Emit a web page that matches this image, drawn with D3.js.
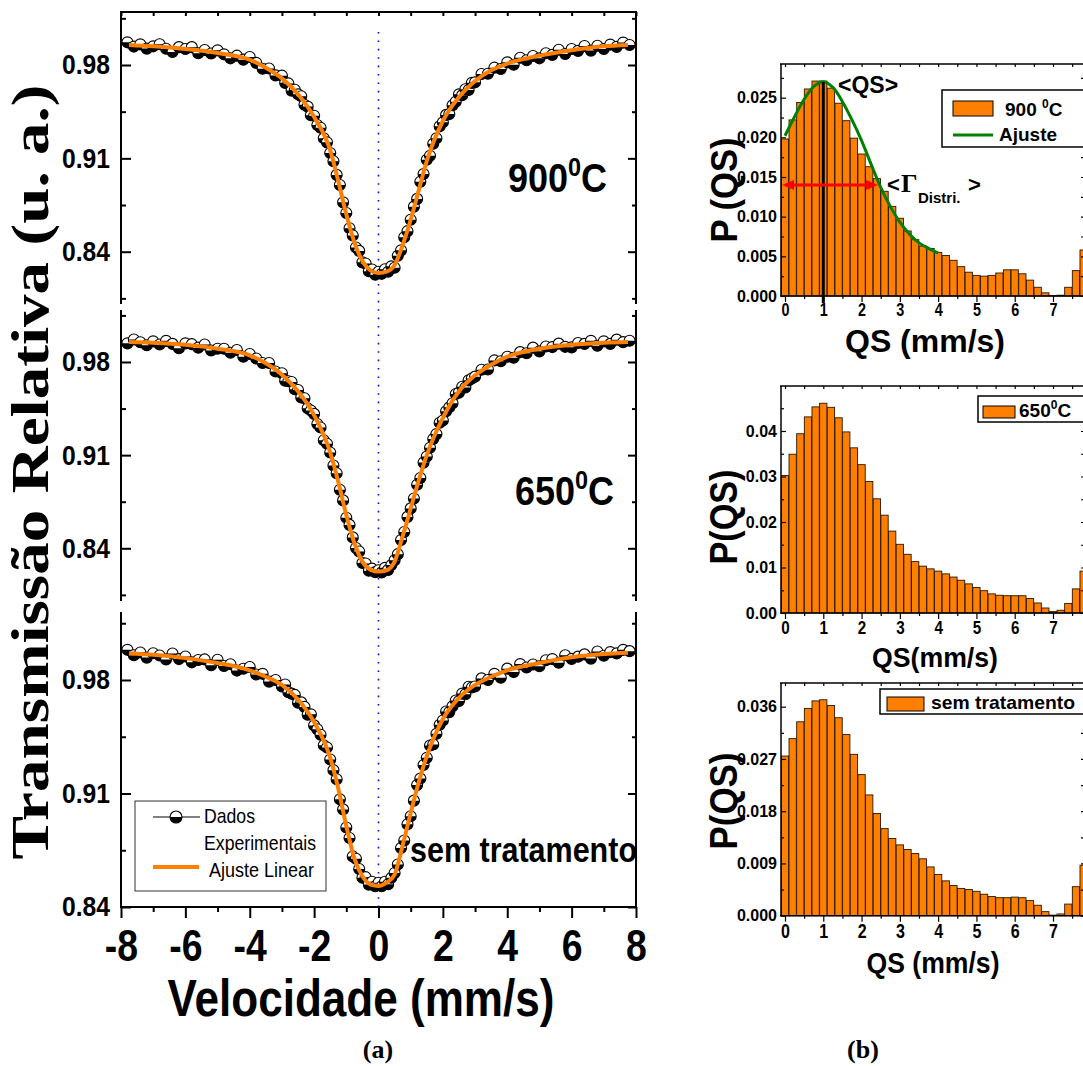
<!DOCTYPE html>
<html><head><meta charset="utf-8">
<script src="https://cdn.jsdelivr.net/npm/d3@7"></script>
<style>body{margin:0;background:#fff}svg{display:block}</style>
</head><body>
<svg id="c" width="1083" height="1066"></svg>
<script>
// ---------------- DATA ----------------
const velocity = [-7.8,-7.6,-7.4,-7.2,-7.0,-6.8,-6.6,-6.4,-6.2,-6.0,-5.8,-5.6,-5.4,-5.2,-5.0,-4.8,-4.6,-4.4,-4.2,-4.0,-3.8,-3.6,-3.4,-3.2,
 -3.0,-2.9,-2.8,-2.7,-2.6,-2.5,-2.4,-2.3,-2.2,-2.1,-2.0,-1.9,-1.8,-1.7,-1.6,-1.5,-1.4,-1.3,-1.2,-1.1,-1.0,-0.9,-0.8,-0.7,-0.6,-0.5,-0.4,-0.3,-0.2,-0.1,
 0.0,0.1,0.2,0.3,0.4,0.5,0.6,0.7,0.8,0.9,1.0,1.1,1.2,1.3,1.4,1.5,1.6,1.7,1.8,1.9,2.0,2.1,2.2,2.3,2.4,2.5,2.6,2.7,2.8,2.9,3.0,
 3.2,3.4,3.6,3.8,4.0,4.2,4.4,4.6,4.8,5.0,5.2,5.4,5.6,5.8,6.0,6.2,6.4,6.6,6.8,7.0,7.2,7.4,7.6,7.8];
const dados900 = [0.997,0.9938,0.9955,0.9923,0.994,0.9956,0.9922,0.9898,0.9934,0.992,0.9934,0.9888,0.9912,0.9886,0.991,0.988,0.985,0.987,0.984,0.986,0.9816,0.9772,0.9774,0.9722,
 0.972,0.9666,0.9662,0.9608,0.9614,0.958,0.9566,0.9502,0.9488,0.9424,0.942,0.935,0.933,0.925,0.922,0.914,0.9078,0.8976,0.890,0.877,0.869,0.8576,0.8522,0.8432,0.8406,0.832,0.8312,0.8254,0.8266,0.8228,
 0.825,0.8234,0.8268,0.825,0.829,0.828,0.837,0.841,0.8508,0.8554,0.864,0.8738,0.8796,0.8924,0.8982,0.909,0.912,0.921,0.925,0.934,0.937,0.9426,0.9432,0.9498,0.9524,0.958,0.9574,0.9618,0.9612,0.9666,0.967,
 0.9732,0.9734,0.978,0.977,0.982,0.9802,0.9854,0.9836,0.9868,0.985,0.9888,0.9876,0.9914,0.9882,0.992,0.9906,0.9942,0.9908,0.9944,0.992,0.9953,0.9936,0.9968,0.995];
const dados650 = [0.994,0.9969,0.9948,0.9926,0.9955,0.9932,0.9959,0.9936,0.9903,0.994,0.9934,0.9908,0.9932,0.9886,0.990,0.990,0.987,0.989,0.984,0.986,0.9826,0.9792,0.9793,0.9729,
 0.9715,0.966,0.9655,0.965,0.9595,0.959,0.9534,0.9528,0.9452,0.9436,0.941,0.9334,0.9308,0.9212,0.9186,0.912,0.9022,0.8964,0.884,0.876,0.863,0.8576,0.8482,0.8402,0.8376,0.829,0.8286,0.8232,0.8247,0.8221,
 0.8235,0.8219,0.8253,0.8238,0.8274,0.831,0.8356,0.8462,0.8522,0.8636,0.870,0.8774,0.8878,0.8928,0.9044,0.909,0.9156,0.9222,0.9258,0.9344,0.936,0.943,0.946,0.949,0.956,0.957,0.9614,0.9608,0.9662,0.9676,0.969,
 0.9742,0.9744,0.9812,0.9806,0.984,0.9832,0.9874,0.9866,0.9908,0.988,0.9916,0.9912,0.9938,0.9914,0.991,0.9943,0.9936,0.9959,0.9922,0.9955,0.9936,0.9968,0.9949,0.996];
const dadosSem = [0.9986,0.9953,0.997,0.9938,0.9965,0.9951,0.9927,0.9963,0.9929,0.9945,0.9909,0.9923,0.9927,0.9891,0.9925,0.9886,0.9897,0.9858,0.9869,0.988,0.9834,0.9838,0.979,0.980,
 0.976,0.9772,0.9724,0.9716,0.9708,0.966,0.9662,0.9634,0.9586,0.9588,0.952,0.9496,0.9462,0.9398,0.9384,0.931,0.9244,0.9188,0.9064,0.9002,0.889,0.8826,0.8712,0.8698,0.8634,0.858,0.8584,0.8538,0.8556,0.8528,
 0.855,0.8528,0.8556,0.854,0.858,0.861,0.8662,0.8764,0.881,0.891,0.896,0.9056,0.9152,0.9192,0.9276,0.932,0.9396,0.9402,0.9468,0.9524,0.955,0.9606,0.9602,0.9638,0.9674,0.967,0.9716,0.9712,0.9758,0.9754,0.976,
 0.981,0.980,0.9838,0.9814,0.987,0.9849,0.9898,0.9877,0.9896,0.9885,0.9922,0.9929,0.9906,0.9953,0.993,0.9944,0.9958,0.9932,0.9976,0.995,0.9972,0.9964,0.9986,0.9978];
const fitVel = [-7.75,-7,-6,-5,-4,-3.5,-3,-2.5,-2,-1.5,-1.25,-1,-0.75,-0.5,-0.25,0,0.25,0.5,0.75,1,1.25,1.5,2,2.5,3,3.5,4,5,6,7,7.75];
const ajuste900 = [0.995,0.994,0.992,0.989,0.984,0.978,0.970,0.958,0.941,0.916,0.893,0.868,0.847,0.833,0.826,0.824,0.825,0.830,0.845,0.864,0.886,0.908,0.938,0.956,0.968,0.976,0.981,0.987,0.991,0.994,0.995];
const ajuste650 = [0.995,0.9945,0.993,0.990,0.985,0.979,0.9705,0.958,0.940,0.912,0.890,0.865,0.844,0.830,0.824,0.8225,0.8235,0.830,0.849,0.870,0.891,0.910,0.938,0.958,0.970,0.978,0.984,0.990,0.993,0.9945,0.995];
const ajusteSem = [0.9965,0.9955,0.9935,0.9905,0.986,0.982,0.977,0.968,0.954,0.932,0.913,0.890,0.870,0.859,0.854,0.853,0.855,0.860,0.878,0.898,0.917,0.933,0.956,0.969,0.977,0.982,0.986,0.9905,0.994,0.996,0.9968];
const velTicks = [-8,-6,-4,-2,0,2,4,6,8];
const velMinor = [-7,-5,-3,-1,1,3,5,7];
const transTicks = [0.84,0.91,0.98];
const transMinor = [0.805,0.875,0.945,1.015];

const qsBins = [0,0.2,0.4,0.6,0.8,1.0,1.2,1.4,1.6,1.8,2.0,2.2,2.4,2.6,2.8,3.0,3.2,3.4,3.6,3.8,4.0,4.2,4.4,4.6,4.8,5.0,5.2,5.4,5.6,5.8,6.0,6.2,6.4,6.6,6.8,7.0,7.2,7.4,7.6,7.8];
const pqs900 = [0.0198,0.0222,0.0244,0.0261,0.0271,0.0271,0.0262,0.0243,0.0221,0.0199,0.0179,0.0163,0.0148,0.0132,0.0113,0.0098,0.0082,0.0071,0.0063,0.0060,0.0055,0.0051,0.0045,0.0037,0.0030,0.0026,0.0025,0.0026,0.0029,0.0033,0.0033,0.0028,0.0020,0.0011,0.0004,0.00005,0.0001,0.0011,0.0032,0.0058];
const pqs650 = [0.0302,0.0349,0.0394,0.0431,0.0453,0.0461,0.0452,0.0429,0.0398,0.0363,0.0326,0.0289,0.0251,0.0215,0.0180,0.0151,0.0129,0.0113,0.0103,0.0097,0.0092,0.0086,0.0079,0.0072,0.0064,0.0056,0.0049,0.0042,0.0039,0.0038,0.0038,0.0038,0.0032,0.0022,0.0011,0.0003,0.0006,0.0021,0.0053,0.0092];
const pqsSem = [0.0275,0.0305,0.0334,0.0357,0.0370,0.0372,0.0362,0.0341,0.0312,0.0278,0.0243,0.0208,0.0176,0.0150,0.0133,0.0122,0.0114,0.0107,0.0098,0.0084,0.0071,0.0060,0.0052,0.0047,0.0045,0.0042,0.0037,0.0033,0.0031,0.0031,0.0032,0.0031,0.0026,0.0018,0.0007,0.0001,0.0003,0.0020,0.0050,0.0087];
const ajusteQS  = [0,0.25,0.5,0.75,1.0,1.25,1.5,1.75,2.0,2.25,2.5,2.75,3.0,3.25,3.5,3.75,4.0];
const ajustePQS = [0.0202,0.0226,0.0248,0.0264,0.0270,0.0263,0.0245,0.0222,0.0196,0.0166,0.0137,0.0113,0.0093,0.0078,0.0067,0.0060,0.0054];
const qsTicks = [0,1,2,3,4,5,6,7];
const qsMinor = [0.5,1.5,2.5,3.5,4.5,5.5,6.5,7.5];
const pTicks900 = [0,0.005,0.010,0.015,0.020,0.025];
const pMinor900 = [0.0025,0.0075,0.0125,0.0175,0.0225,0.0275];
const pTicks650 = [0,0.01,0.02,0.03,0.04];
const pMinor650 = [0.005,0.015,0.025,0.035,0.045];
const pTicksSem = [0,0.009,0.018,0.027,0.036];
const pMinorSem = [0.0045,0.0135,0.0225,0.0315];

// ---------------- DRAW ----------------
const SANS = "Arial, 'Liberation Sans', Helvetica, sans-serif";
const SERIF = "'Times New Roman', 'Liberation Serif', serif";
const ORANGE = "#ff8000";
const svg = d3.select("#c");

function addText(parent, o) {
  const tr = `translate(${o.x},${o.y})` + (o.rotate ? ` rotate(${o.rotate})` : "") + (o.sx ? ` scale(${o.sx},1)` : "");
  const t = parent.append("text").attr("transform", tr)
    .attr("font-family", o.family || SANS).attr("font-size", o.size)
    .attr("font-weight", o.weight || "bold").attr("text-anchor", o.anchor || "start")
    .attr("fill", "#000");
  if (o.text !== undefined) t.text(o.text);
  if (o.len) t.attr("textLength", o.len).attr("lengthAdjust", "spacingAndGlyphs");
  return t;
}
function styleAxis(g, sw) {
  g.select(".domain").remove();
  g.selectAll(".tick line").attr("stroke", "#000").attr("stroke-width", sw);
}

// ===== Left: Mossbauer spectra =====
const xV = d3.scaleLinear().domain([-8, 8]).range([121, 636]);
const left = svg.append("g");
const leftPanels = [
  {data: dados900, fit: ajuste900, top: 12, bottom: 304, y84: 251.7, y98: 65, label: "900", lx: 508, ly: 192},
  {data: dados650, fit: ajuste650, top: 310, bottom: 601, y84: 548.3, y98: 362, label: "650", lx: 515, ly: 505},
  {data: dadosSem, fit: ajusteSem, top: 612, bottom: 907, y84: 907, y98: 680}
];

left.append("line").attr("x1", xV(0)).attr("x2", xV(0)).attr("y1", 32).attr("y2", 907)
  .attr("stroke", "#0000ff").attr("stroke-width", 1.6).attr("stroke-dasharray", "1.6,6.8");

leftPanels.forEach((p) => {
  const y = d3.scaleLinear().domain([0.84, 0.98]).range([p.y84, p.y98]);
  const inside = v => y(v) >= p.top - 0.5 && y(v) <= p.bottom + 0.5;
  const maj = transTicks.filter(inside), mnr = transMinor.filter(inside);
  const g = left.append("g");

  g.append("line").attr("x1", 121).attr("x2", 121).attr("y1", p.top).attr("y2", p.bottom).attr("stroke", "#000").attr("stroke-width", 2);
  g.append("line").attr("x1", 636).attr("x2", 636).attr("y1", p.top).attr("y2", p.bottom).attr("stroke", "#000").attr("stroke-width", 2);

  const la = g.append("g").attr("transform", "translate(121,0)")
    .call(d3.axisLeft(y).tickValues(maj).tickSizeInner(-10).tickSizeOuter(0).tickPadding(11).tickFormat(d3.format(".2f")));
  styleAxis(la, 2);
  la.selectAll("text").attr("font-family", SANS).attr("font-size", 28).attr("font-weight", "bold")
    .attr("fill", "#000").attr("textLength", 48).attr("lengthAdjust", "spacingAndGlyphs");
  const lm = g.append("g").attr("transform", "translate(121,0)")
    .call(d3.axisLeft(y).tickValues(mnr).tickSizeInner(-5).tickSizeOuter(0).tickFormat(""));
  styleAxis(lm, 2);
  const ra = g.append("g").attr("transform", "translate(636,0)")
    .call(d3.axisRight(y).tickValues(maj).tickSizeInner(-8).tickSizeOuter(0).tickFormat(""));
  styleAxis(ra, 2);
  const rm = g.append("g").attr("transform", "translate(636,0)")
    .call(d3.axisRight(y).tickValues(mnr).tickSizeInner(-4).tickSizeOuter(0).tickFormat(""));
  styleAxis(rm, 2);

  const r = 5.5;
  const pts = g.append("g").selectAll("g").data(d3.zip(velocity, p.data)).join("g")
    .attr("transform", d => `translate(${xV(d[0])},${y(d[1])})`);
  pts.append("circle").attr("r", r).attr("fill", "#fff").attr("stroke", "#000").attr("stroke-width", 1.1);
  pts.append("path").attr("d", `M${-r},0A${r},${r} 0 0 0 ${r},0Z`).attr("fill", "#000");

  const line = d3.line().x((d, i) => xV(fitVel[i])).y(d => y(d)).curve(d3.curveMonotoneX);
  g.append("path").attr("d", line(p.fit)).attr("fill", "none").attr("stroke", ORANGE).attr("stroke-width", 4);

  if (p.label) {
    const t = addText(g, {x: p.lx, y: p.ly, size: 40, sx: 0.9});
    t.append("tspan").text(p.label);
    t.append("tspan").attr("dy", -16).attr("font-size", 26).text("0");
    t.append("tspan").attr("dy", 16).text("C");
  }
});

const topAx = left.append("g").attr("transform", "translate(0,12)")
  .call(d3.axisTop(xV).tickValues(velTicks.concat(velMinor)).tickSizeInner(-4).tickSizeOuter(0).tickFormat(""));
styleAxis(topAx, 2);
left.append("line").attr("x1", 120).attr("x2", 637).attr("y1", 12).attr("y2", 12).attr("stroke", "#000").attr("stroke-width", 2);
left.append("line").attr("x1", 120).attr("x2", 637).attr("y1", 907).attr("y2", 907).attr("stroke", "#000").attr("stroke-width", 2);
const botAx = left.append("g").attr("transform", "translate(0,907)")
  .call(d3.axisBottom(xV).tickValues(velTicks).tickSizeInner(11).tickSizeOuter(0).tickPadding(12).tickFormat(d => String(d)));
styleAxis(botAx, 2);
botAx.selectAll("text").attr("font-family", SANS).attr("font-size", 44).attr("font-weight", "bold").attr("fill", "#000")
  .attr("transform", "scale(0.85,1)");
const botMin = left.append("g").attr("transform", "translate(0,907)")
  .call(d3.axisBottom(xV).tickValues(velMinor).tickSizeInner(5).tickSizeOuter(0).tickFormat(""));
styleAxis(botMin, 2);

addText(left, {x: 361, y: 1016, text: "Velocidade (mm/s)", size: 52, anchor: "middle", len: 387});
addText(left, {x: 48, y: 472, text: "Transmissão Relativa (u. a.)", size: 53, family: SERIF, anchor: "middle", rotate: -90, len: 775});

const lg = left.append("g");
lg.append("rect").attr("x", 135).attr("y", 801).attr("width", 191).attr("height", 90)
  .attr("fill", "#fff").attr("stroke", "#333").attr("stroke-width", 1);
lg.append("line").attr("x1", 153).attr("x2", 200).attr("y1", 817).attr("y2", 817).attr("stroke", "#000").attr("stroke-width", 1);
lg.append("circle").attr("cx", 176).attr("cy", 817).attr("r", 6).attr("fill", "#fff").attr("stroke", "#000").attr("stroke-width", 1.1);
lg.append("path").attr("d", "M170,817A6,6 0 0 0 182,817Z").attr("fill", "#000");
addText(lg, {x: 204, y: 823, text: "Dados", size: 21, weight: "normal", len: 51});
addText(lg, {x: 204, y: 850, text: "Experimentais", size: 21, weight: "normal", len: 112});
lg.append("line").attr("x1", 153).attr("x2", 199).attr("y1", 867).attr("y2", 867).attr("stroke", ORANGE).attr("stroke-width", 4);
addText(lg, {x: 209, y: 877, text: "Ajuste Linear", size: 21, weight: "normal", len: 105});

addText(left, {x: 410, y: 862, text: "sem tratamento", size: 35, len: 227});
addText(svg, {x: 378, y: 1058, text: "(a)", size: 26, family: SERIF, anchor: "middle"});
addText(svg, {x: 863, y: 1058, text: "(b)", size: 26, family: SERIF, anchor: "middle"});

// ===== Right: QS distributions =====
const xQ = d3.scaleLinear().domain([0, 7]).range([785, 1053]);
const right = svg.append("g");
const rightPanels = [
  {vals: pqs900, top: 64, base: 296, ref: 0.025, refPx: 97.7, ticks: pTicks900, minor: pMinor900, fmt: ".3f",
   digitSize: 18, digitBase: 316, xl: "QS (mm/s)", xlx: 925, xly: 352, xls: 32, xll: 160,
   yl: "P (QS)", yly: 190, yls: 37, yll: 105},
  {vals: pqs650, top: 386, base: 613, ref: 0.04, refPx: 431, ticks: pTicks650, minor: pMinor650, fmt: ".2f",
   digitSize: 19, digitBase: 634, xl: "QS(mm/s)", xlx: 935, xly: 667, xls: 27, xll: 126,
   yl: "P(QS)", yly: 517, yls: 38, yll: 95},
  {vals: pqsSem, top: 683, base: 915.7, ref: 0.036, refPx: 706.7, ticks: pTicksSem, minor: pMinorSem, fmt: ".3f",
   digitSize: 20, digitBase: 938, xl: "QS (mm/s)", xlx: 933, xly: 973, xls: 29, xll: 133,
   yl: "P(QS)", yly: 801, yls: 38, yll: 97}
];
const bw = xQ(0.19) - xQ(0);
rightPanels.forEach((p) => {
  const y = d3.scaleLinear().domain([0, p.ref]).range([p.base, p.refPx]);
  const g = right.append("g");
  const inside = v => y(v) >= p.top - 0.5;
  g.append("g").selectAll("rect").data(d3.zip(qsBins, p.vals)).join("rect")
    .attr("x", d => xQ(d[0]) - bw / 2).attr("width", bw)
    .attr("y", d => y(d[1])).attr("height", d => p.base - y(d[1]))
    .attr("fill", ORANGE).attr("stroke", "#2a1500").attr("stroke-width", 0.9);
  g.append("line").attr("x1", 781).attr("x2", 781).attr("y1", p.top).attr("y2", p.base).attr("stroke", "#000").attr("stroke-width", 1.5);
  g.append("line").attr("x1", 780).attr("x2", 1090).attr("y1", p.top).attr("y2", p.top).attr("stroke", "#000").attr("stroke-width", 1.5);
  g.append("line").attr("x1", 780).attr("x2", 1090).attr("y1", p.base).attr("y2", p.base).attr("stroke", "#000").attr("stroke-width", 1.5);
  g.append("line").attr("x1", 1086).attr("x2", 1086).attr("y1", p.top).attr("y2", p.base).attr("stroke", "#000").attr("stroke-width", 1.5);
  const ya = g.append("g").attr("transform", "translate(781,0)")
    .call(d3.axisLeft(y).tickValues(p.ticks.filter(inside)).tickSizeInner(-5).tickSizeOuter(0).tickPadding(4).tickFormat(d3.format(p.fmt)));
  styleAxis(ya, 1.2);
  ya.selectAll("text").attr("font-family", SANS).attr("font-size", 16).attr("font-weight", "bold").attr("fill", "#000");
  const ym = g.append("g").attr("transform", "translate(781,0)")
    .call(d3.axisLeft(y).tickValues(p.minor.filter(inside)).tickSizeInner(-3).tickSizeOuter(0).tickFormat(""));
  styleAxis(ym, 1.2);
  const yr = g.append("g").attr("transform", "translate(1086,0)")
    .call(d3.axisRight(y).tickValues(p.ticks.filter(inside).concat(p.minor.filter(inside))).tickSizeInner(-5).tickSizeOuter(0).tickFormat(""));
  styleAxis(yr, 1.2);
  const xa = g.append("g").attr("transform", `translate(0,${p.base})`)
    .call(d3.axisBottom(xQ).tickValues(qsTicks).tickSizeInner(6).tickSizeOuter(0).tickPadding(3).tickFormat(d => String(d)));
  styleAxis(xa, 1.2);
  xa.selectAll("text").attr("font-family", SANS).attr("font-size", p.digitSize).attr("font-weight", "bold").attr("fill", "#000")
    .attr("dy", null).attr("y", p.digitBase - p.base).attr("transform", "scale(0.8,1)");
  const xm = g.append("g").attr("transform", `translate(0,${p.base})`)
    .call(d3.axisBottom(xQ).tickValues(qsMinor).tickSizeInner(3).tickSizeOuter(0).tickFormat(""));
  styleAxis(xm, 1.2);
  const xt = g.append("g").attr("transform", `translate(0,${p.top})`)
    .call(d3.axisTop(xQ).tickValues(qsTicks.concat(qsMinor)).tickSizeInner(-3).tickSizeOuter(0).tickFormat(""));
  styleAxis(xt, 1.2);
  addText(g, {x: p.xlx, y: p.xly, text: p.xl, size: p.xls, anchor: "middle", len: p.xll});
  addText(g, {x: 737, y: p.yly, text: p.yl, size: p.yls, anchor: "middle", rotate: -90, len: p.yll});
  p.y = y;
});

const yT = rightPanels[0].y;
const ann = right.append("g");
ann.append("path").attr("d", d3.line().x((d, i) => xQ(ajusteQS[i])).y(d => yT(d)).curve(d3.curveCatmullRom)(ajustePQS))
  .attr("fill", "none").attr("stroke", "#008000").attr("stroke-width", 3);
ann.append("line").attr("x1", xQ(1)).attr("x2", xQ(1)).attr("y1", 82).attr("y2", 303).attr("stroke", "#000").attr("stroke-width", 3);
addText(ann, {x: 838, y: 93, text: "<QS>", size: 23});
const ay = yT(0.014), ax1 = 782, ax2 = xQ(2.43);
ann.append("line").attr("x1", ax1 + 8).attr("x2", ax2 - 8).attr("y1", ay).attr("y2", ay).attr("stroke", "#ff0000").attr("stroke-width", 3);
ann.append("path").attr("d", `M${ax1},${ay}L${ax1 + 12},${ay - 5}L${ax1 + 12},${ay + 5}Z`).attr("fill", "#ff0000");
ann.append("path").attr("d", `M${ax2},${ay}L${ax2 - 12},${ay - 5}L${ax2 - 12},${ay + 5}Z`).attr("fill", "#ff0000");
addText(ann, {x: 887, y: 192, text: "<", size: 22});
addText(ann, {x: 901, y: 192, text: "Γ", size: 26, family: SERIF, weight: "bold"});
addText(ann, {x: 918, y: 203, text: "Distri.", size: 15});
addText(ann, {x: 968, y: 192, text: ">", size: 22});

const l1 = right.append("g");
l1.append("rect").attr("x", 942).attr("y", 90).attr("width", 160).attr("height", 57).attr("fill", "#fff").attr("stroke", "#000").attr("stroke-width", 1.5);
l1.append("rect").attr("x", 953).attr("y", 101).attr("width", 40).attr("height", 15).attr("fill", ORANGE).attr("stroke", "#000").attr("stroke-width", 1);
const t1 = addText(l1, {x: 1005, y: 116, size: 19});
t1.append("tspan").text("900 ");
t1.append("tspan").attr("dy", -8).attr("font-size", 12).text("0");
t1.append("tspan").attr("dy", 8).text("C");
l1.append("line").attr("x1", 953).attr("x2", 993).attr("y1", 135).attr("y2", 135).attr("stroke", "#008000").attr("stroke-width", 3);
addText(l1, {x: 999, y: 141, text: "Ajuste", size: 19});

const l2 = right.append("g");
l2.append("rect").attr("x", 978).attr("y", 396).attr("width", 124).attr("height", 26).attr("fill", "#fff").attr("stroke", "#000").attr("stroke-width", 1.5);
l2.append("rect").attr("x", 983).attr("y", 406).attr("width", 32).attr("height", 12).attr("fill", ORANGE).attr("stroke", "#000").attr("stroke-width", 1);
const t2 = addText(l2, {x: 1019, y: 417, size: 19});
t2.append("tspan").text("650");
t2.append("tspan").attr("dy", -8).attr("font-size", 12).text("0");
t2.append("tspan").attr("dy", 8).text("C");

const l3 = right.append("g");
l3.append("rect").attr("x", 880).attr("y", 689).attr("width", 222).attr("height", 25).attr("fill", "#fff").attr("stroke", "#000").attr("stroke-width", 1.5);
l3.append("rect").attr("x", 887).attr("y", 697).attr("width", 37).attr("height", 14).attr("fill", ORANGE).attr("stroke", "#000").attr("stroke-width", 1);
addText(l3, {x: 931, y: 709, text: "sem tratamento", size: 19, len: 144});
</script>
</body></html>
